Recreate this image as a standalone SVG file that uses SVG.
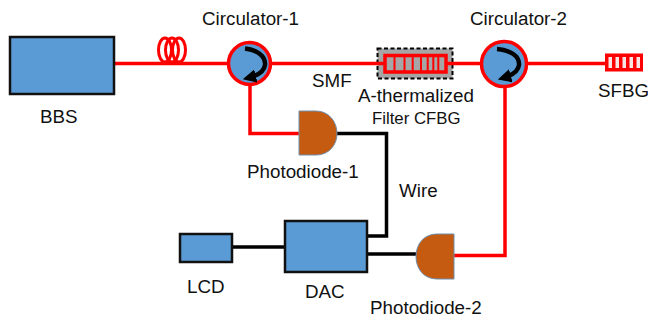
<svg xmlns="http://www.w3.org/2000/svg" width="648" height="320" viewBox="0 0 648 320">
<style>
text{font-family:"Liberation Sans",Arial,sans-serif;font-size:18.800px;fill:#111}
.r{fill:none;stroke:#f00;stroke-width:3.500}
.k{fill:none;stroke:#000;stroke-width:3.500}
.box{fill:#5b9bd5;stroke:#111;stroke-width:2.500}
.circ{fill:#5b9bd5;stroke:#f00;stroke-width:3.500}
.arc{fill:none;stroke:#000;stroke-width:4.500}
.pd{fill:#c55a11;stroke:#6d8fb0;stroke-width:1}
.slot{fill:#fbe4e4}
</style>
<defs>
<marker id="ah" viewBox="0 0 10 10" refX="6" refY="5" markerWidth="3" markerHeight="3" orient="auto-start-reverse"><path d="M0 0L10 5L0 10z" fill="#000"/></marker>
</defs>
<g id="filter-case"><rect x="377.500" y="48.500" width="75" height="30" fill="#a6a6a6" stroke="#000" stroke-width="2" stroke-dasharray="4 2.500"/></g>
<g id="connectors">
<path class="r" d="M114 63.500H229"/>
<path class="r" d="M271 63.500H385"/>
<path class="r" d="M446 63.500H481"/>
<path class="r" d="M527 63.500H606"/>
<path class="r" d="M250 85V133.500H300"/>
<path class="r" d="M505 87V255.500H454"/>
<path class="k" d="M336 133.500H386.500V236H368"/>
<path class="k" d="M232 247H285"/>
<path class="k" d="M368 254H417"/>
</g>
<g id="bbs"><rect class="box" x="10" y="37" width="104" height="57"/><text x="40" y="123">BBS</text></g>
<g id="coil" class="r" style="stroke-width:3"><ellipse cx="165" cy="50" rx="6.500" ry="12"/><ellipse cx="172" cy="50" rx="6.500" ry="12"/><ellipse cx="179" cy="50" rx="6.500" ry="12"/></g>
<g id="circulator-1"><circle class="circ" cx="249.500" cy="63.500" r="21"/><path class="arc" d="M245 48.500C257 50 266 56 265 65C264 73 256 76 248 78" marker-end="url(#ah)"/><text x="202" y="25">Circulator-1</text></g>
<g id="smf-label"><text x="312" y="87">SMF</text></g>
<g id="filter"><rect x="385" y="55.500" width="61" height="16.500" fill="#a6a6a6" stroke="#f00" stroke-width="3.500"/>
<path d="M394.500 55V72M404.500 55V72M412.700 55V72M421 55V72M427.700 55V72M433.300 55V72M438.300 55V72" stroke="#f00" stroke-width="2" fill="none"/>
<text x="358" y="102">A-thermalized</text><text x="372" y="124" style="font-size:16.800px">Filter CFBG</text></g>
<g id="circulator-2"><circle class="circ" cx="504" cy="64" r="22.500"/><path class="arc" d="M497 49C510 50 520 56 519 65C518 73 510 76 503 78" marker-end="url(#ah)"/><text x="470" y="25">Circulator-2</text></g>
<g id="sfbg"><rect x="605" y="53.500" width="38" height="18" fill="#f00"/><rect class="slot" x="608.500" y="57" width="3.500" height="11"/><rect class="slot" x="615.500" y="57" width="3.500" height="11"/><rect class="slot" x="622.500" y="57" width="3.500" height="11"/><rect class="slot" x="629.500" y="57" width="3.500" height="11"/><rect class="slot" x="636.500" y="57" width="3.500" height="11"/><text x="598" y="97">SFBG</text></g>
<g id="photodiode-1"><path class="pd" d="M299 111H316C329 111 337 122 337 133.500C337 145 329 155 316 155H299z"/><text x="247" y="178">Photodiode-1</text></g>
<g id="wire-label"><text x="399" y="197">Wire</text></g>
<g id="lcd"><rect class="box" x="180" y="234" width="52" height="28"/><text x="187" y="293">LCD</text></g>
<g id="dac"><rect class="box" x="285" y="221" width="82" height="51"/><text x="305" y="298">DAC</text></g>
<g id="photodiode-2"><path class="pd" d="M454 234H437C424 234 416 244 416 256.500C416 269 424 279 437 279H454z"/><text x="370" y="314">Photodiode-2</text></g>
</svg>
